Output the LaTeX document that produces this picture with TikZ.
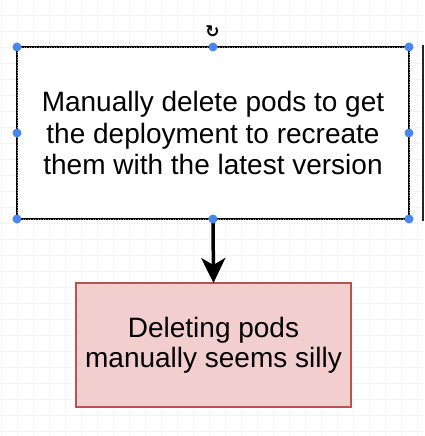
\documentclass[tikz,border=0pt]{standalone}
\usepackage{fontspec}
\setmainfont{Liberation Sans}
\newfontfamily\symbolfont{DejaVu Sans}
\usetikzlibrary{arrows.meta}
\definecolor{gridgray}{RGB}{243,243,243}
\definecolor{handleblue}{RGB}{74,134,240}
\definecolor{podfill}{RGB}{242,206,206}
\definecolor{podline}{RGB}{184,84,80}
\begin{document}
\begin{tikzpicture}[x=1pt, y=-1pt,
    textbox/.style={align=center, inner sep=0pt, outer sep=0pt, font=\fontsize{28}{31.5}\selectfont},
    handle/.style={circle, fill=handleblue, inner sep=0pt, minimum size=9pt}]
    \useasboundingbox (0,0) rectangle (424,436);
    % background grid
    \foreach \x in {1, 17, ..., 424}
        \draw[gridgray, line width=0.6pt] (\x, 0) -- (\x, 436);
    \foreach \y in {-1, 15, ..., 436}
        \draw[gridgray, line width=0.6pt] (0, \y) -- (424, \y);

    \node[textbox, draw=black, fill=white, line width=2.5pt, minimum width=392pt, minimum height=172pt] (manual) at (213, 133)
        {Manually delete pods to get\\the deployment to recreate\\them with the latest version};
    \node[textbox, draw=podline, fill=podfill, line width=2pt, minimum width=275pt, minimum height=124pt,
        font=\fontsize{28}{30}\selectfont] (pods) at (213.5, 345) {Deleting pods\\manually seems silly};

    \draw[line width=3.5pt, -{Stealth[width=24pt, length=25pt, inset=7pt]}] (manual.south) -- (pods.north);

    % selection outline and handles
    \draw[black!45, line width=0.6pt, dash pattern=on 1pt off 1.5pt]
        (manual.north west) rectangle (manual.south east);
    \foreach \a in {north west, north, north east, west, east, south west, south, south east}
        \node[handle] (handle \a) at (manual.\a) {};
    \node[inner sep=0pt, font=\symbolfont\bfseries\fontsize{17}{17}\selectfont] (rotate) at (212.5, 32) {↻};

    % edge of the next shape
    \draw[black!85, line width=1.5pt] (423, 45) -- (423, 221);
\end{tikzpicture}
\end{document}
